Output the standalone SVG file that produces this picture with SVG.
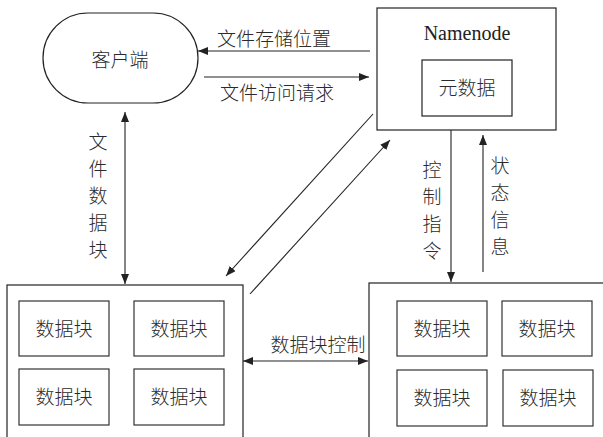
<svg xmlns="http://www.w3.org/2000/svg" width="603" height="437" viewBox="0 0 603 437">
<style>
.box{fill:#fff;stroke:#222;stroke-width:1.2}
.blk{fill:#fff;stroke:#333;stroke-width:1.2}
.ln{fill:none;stroke:#222;stroke-width:1.1}
.cjk{font-family:"Noto Sans CJK SC","Noto Sans",sans-serif;font-size:19px;font-weight:300;fill:#2a2a2a;text-anchor:middle}
.ser{font-family:"Liberation Serif",serif;font-size:20px;fill:#222;text-anchor:middle}
</style>
<defs>
<marker id="ah" viewBox="0 0 10 8" refX="10" refY="4" markerWidth="10" markerHeight="8" markerUnits="userSpaceOnUse" orient="auto-start-reverse">
<path d="M0,0 L10,4 L0,8 z" fill="#222"/>
</marker>
</defs>
<rect width="603" height="437" fill="#fff"/>
<g id="client">
<rect class="box" x="43" y="13" width="155" height="90" rx="45" ry="45"/>
<text class="cjk" x="120" y="67">客户端</text>
</g>
<g id="namenode">
<rect class="box" x="377" y="8" width="179" height="122"/>
<text class="ser" x="467" y="40">Namenode</text>
<g id="metadata">
<rect class="box" x="422" y="60" width="90" height="56"/>
<text class="cjk" x="467" y="95">元数据</text>
</g>
</g>
<g id="datanode1">
<rect class="box" x="7" y="285" width="236" height="160"/>
<rect class="blk" x="19" y="301" width="90" height="55"/>
<text class="cjk" x="64" y="336">数据块</text>
<rect class="blk" x="134" y="301" width="90" height="55"/>
<text class="cjk" x="179" y="336">数据块</text>
<rect class="blk" x="19" y="369" width="90" height="56"/>
<text class="cjk" x="64" y="404">数据块</text>
<rect class="blk" x="134" y="369" width="90" height="56"/>
<text class="cjk" x="179" y="404">数据块</text>
</g>
<g id="datanode2">
<rect class="box" x="369" y="283" width="250" height="170"/>
<rect class="blk" x="397" y="301" width="90" height="55"/>
<text class="cjk" x="442" y="336">数据块</text>
<rect class="blk" x="502" y="301" width="90" height="55"/>
<text class="cjk" x="547" y="336">数据块</text>
<rect class="blk" x="397" y="370" width="90" height="56"/>
<text class="cjk" x="442" y="405">数据块</text>
<rect class="blk" x="503" y="370" width="90" height="56"/>
<text class="cjk" x="548" y="405">数据块</text>
</g>
<g id="connectors">
<line class="ln" x1="370" y1="51" x2="198" y2="51" marker-end="url(#ah)"/>
<text class="cjk" x="274" y="46">文件存储位置</text>
<line class="ln" x1="204" y1="77" x2="369" y2="77" marker-end="url(#ah)"/>
<text class="cjk" x="277" y="100">文件访问请求</text>
<line class="ln" x1="125" y1="112" x2="125" y2="284" marker-start="url(#ah)" marker-end="url(#ah)"/>
<text class="cjk" x="98"><tspan x="98" y="149">文</tspan><tspan x="98" y="176">件</tspan><tspan x="98" y="203">数</tspan><tspan x="98" y="230">据</tspan><tspan x="98" y="257">块</tspan></text>
<line class="ln" x1="373" y1="114" x2="226" y2="276" marker-end="url(#ah)"/>
<line class="ln" x1="250" y1="294" x2="390" y2="140" marker-end="url(#ah)"/>
<line class="ln" x1="451" y1="130" x2="451" y2="282" marker-end="url(#ah)"/>
<text class="cjk" x="432"><tspan x="432" y="177">控</tspan><tspan x="432" y="204">制</tspan><tspan x="432" y="231">指</tspan><tspan x="432" y="258">令</tspan></text>
<line class="ln" x1="483" y1="272" x2="483" y2="135" marker-end="url(#ah)"/>
<text class="cjk" x="500"><tspan x="500" y="173">状</tspan><tspan x="500" y="200">态</tspan><tspan x="500" y="227">信</tspan><tspan x="500" y="254">息</tspan></text>
<line class="ln" x1="243" y1="361" x2="368" y2="361" marker-start="url(#ah)" marker-end="url(#ah)"/>
<text class="cjk" x="318" y="352">数据块控制</text>
</g>
</svg>
